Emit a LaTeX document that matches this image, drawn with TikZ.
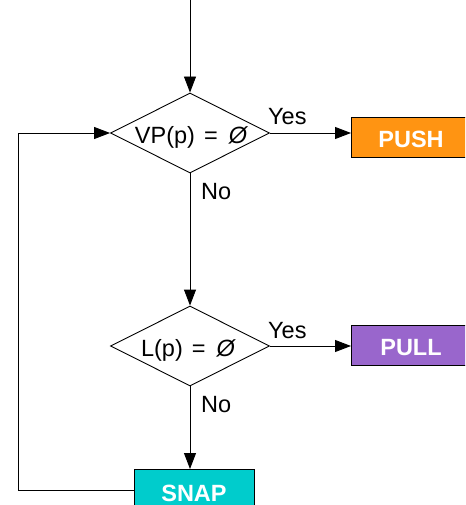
\documentclass[tikz,border=0pt]{standalone}
\usepackage{fontspec}
\setmainfont{Liberation Sans}
\usetikzlibrary{shapes.geometric,arrows.meta}
\definecolor{pushc}{HTML}{FF9412}
\definecolor{pullc}{HTML}{9966CC}
\definecolor{snapc}{HTML}{00CCCC}
\newcommand{\myeq}{\hspace{9pt}=\hspace{11pt}{\itshape Ø}}
\begin{document}
\begin{tikzpicture}[x=1pt,y=-1pt,
  every node/.style={font=\fontsize{23.5}{26}\selectfont, inner sep=0pt},
  arr/.style={draw, line width=0.9pt, -{Triangle[length=16pt,width=12pt]}},
  dia/.style={draw, line width=0.9pt, diamond, minimum width=159pt, minimum height=80pt, aspect=2},
  act/.style={draw, line width=0.9pt, minimum width=160pt, minimum height=40pt},
  lbl/.style={text=white, font=\fontsize{23.5}{26}\selectfont\bfseries},
  yes/.style={anchor=base west, xshift=-2pt, yshift=8pt},
  no/.style={anchor=base west, xshift=11pt}]
\useasboundingbox (0,0) rectangle (465,505);
\clip (0,0) rectangle (465,505);
\coordinate (start) at (190,0);
\node[dia] (d1) at (190,133) {};
\node[anchor=base] (t1) at (191,143) {VP(p)\myeq};
\node[dia] (d2) at (190,346) {};
\node[anchor=base] (t2) at (188,356) {L(p)\myeq};
\node[act, fill=pushc, anchor=west] (push) at (351,137) {};
\node[lbl] (pusht) at (411,139) {PUSH};
\node[act, fill=pullc, anchor=west] (pull) at (351,345.5) {};
\node[lbl] (pullt) at (411,348) {PULL};
\node[act, fill=snapc, minimum width=120pt, anchor=north west] (snap) at (134,469) {};
\node[lbl] (snapt) at (194,493) {SNAP};
\coordinate (c1) at (18,490);
\coordinate (c2) at (18,133);
\draw[arr] (start) -- (d1.north);
\draw[arr] (d1.east) -- (d1.east -| push.west);
\node[yes] (y1) at (d1.east) {Yes};
\draw[arr] (d1.south) -- (d2.north);
\node[no] (n1) at (190,199) {No};
\draw[arr] (d2.east) -- (d2.east -| pull.west);
\node[yes] (y2) at (d2.east) {Yes};
\draw[arr] (d2.south) -- (snap.north -| d2.south);
\node[no] (n2) at (190,412) {No};
\draw[arr] (snap.west |- c1) -- (c1) -- (c2) -- (d1.west);
\end{tikzpicture}
\end{document}
